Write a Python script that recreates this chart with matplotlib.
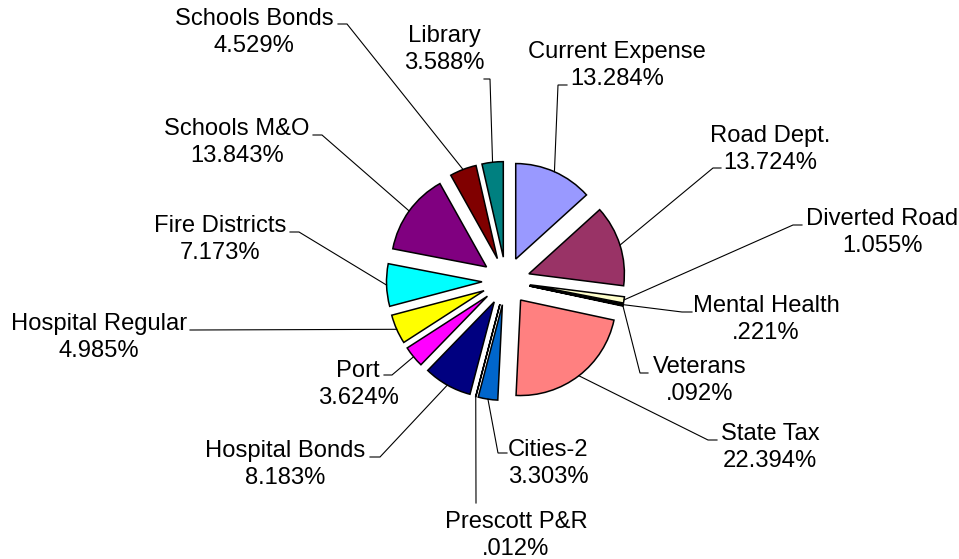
import numpy as np
import matplotlib
matplotlib.use("Agg")
import matplotlib.pyplot as plt

# ---- data ----
categories = ["Current Expense", "Road Dept.", "Diverted Road", "Mental Health",
              "Veterans", "State Tax", "Cities-2", "Prescott P&R", "Hospital Bonds",
              "Port", "Hospital Regular", "Fire Districts", "Schools M&O",
              "Schools Bonds", "Library"]
shares = [13.284, 13.724, 1.055, 0.221, 0.092, 22.394, 3.303, 0.012, 8.183,
          3.624, 4.985, 7.173, 13.843, 4.529, 3.588]
pct_labels = ["13.284%", "13.724%", "1.055%", ".221%", ".092%", "22.394%",
              "3.303%", ".012%", "8.183%", "3.624%", "4.985%", "7.173%",
              "13.843%", "4.529%", "3.588%"]
colors = ["#9999FF", "#993366", "#FFFFCC", "#CCFFFF", "#660066", "#FF8080",
          "#0066CC", "#CCCCFF", "#000080", "#FF00FF", "#FFFF00", "#00FFFF",
          "#800080", "#800000", "#008080"]

# ---- layout (pixel coordinates, y from top) ----
W, H = 959, 559
CX, CY = 506, 281
RADIUS = 95.5
EXPLODE = 24
# (text centre x, first baseline y, bend x, bend y, stub end x, stub end y)
label_layout = [
    (617, 58, 558, 85, 567, 85),
    (770, 142, 713, 168, 721, 168),
    (882, 225, 793, 225, 802, 225),
    (766, 312, 682, 312, 692, 312),
    (700, 373, 640, 373, 648, 373),
    (770, 440, 708, 440, 717, 440),
    (548, 456, 498, 453, 507, 453),
    (516, 528, 476, 503, 476, 503),
    (285, 457, 380, 457, 370, 457),
    (358, 377, 392, 375, 384, 375),
    (99, 330, 192, 330, 190, 330),
    (220, 232, 299, 232, 290, 232),
    (237, 135, 322, 135, 313, 135),
    (254, 25, 347, 24, 338, 24),
    (444, 42, 490, 79, 484, 79),
]
LINE_GAP = 27
FONT = 17.1


def py(y):
    return H - y


fig = plt.figure(figsize=(W / 100, H / 100), dpi=100)
ax = fig.add_axes([0, 0, 1, 1])
ax.pie(shares, colors=colors, startangle=90, counterclock=False,
       radius=RADIUS, center=(CX, py(CY)), explode=[EXPLODE] * len(shares),
       wedgeprops=dict(edgecolor="black", linewidth=1.1, joinstyle="miter"))
ax.set_xlim(0, W)
ax.set_ylim(0, H)
ax.set_aspect("equal")
ax.axis("off")

total = sum(shares)
cum = np.concatenate([[0], np.cumsum(shares)]) / total
for i, name in enumerate(categories):
    mid = 0.5 * (cum[i] + cum[i + 1])
    th = np.deg2rad(90 - 360 * mid)
    ax_x = CX + (EXPLODE + RADIUS) * np.cos(th)
    ax_y = py(CY) + (EXPLODE + RADIUS) * np.sin(th)
    tx, tb, bx, by, sx, sy = label_layout[i]
    ax.plot([ax_x, bx, sx], [ax_y, py(by), py(sy)], color="black", lw=0.8,
            solid_joinstyle="miter")
    ax.text(tx, py(tb), name, ha="center", va="baseline", fontsize=FONT,
            family="Liberation Sans", color="black")
    ax.text(tx, py(tb + LINE_GAP), pct_labels[i], ha="center", va="baseline",
            fontsize=FONT, family="Liberation Sans", color="black")

fig.savefig("out.png", dpi=100)
